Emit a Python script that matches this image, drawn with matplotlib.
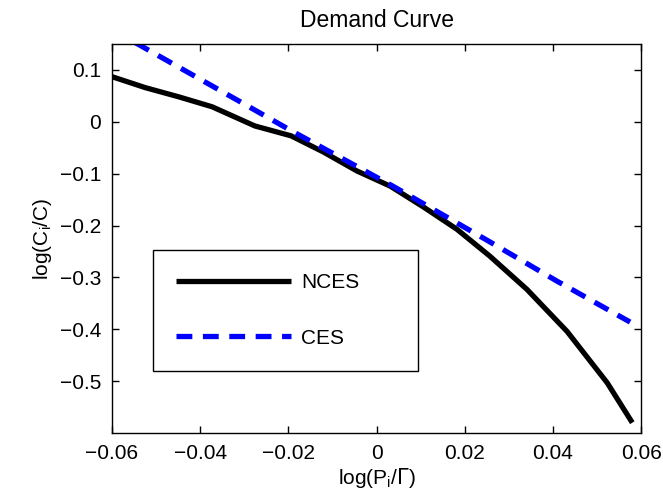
import matplotlib
matplotlib.use('Agg')
import matplotlib.pyplot as plt

plt.rcParams['font.family'] = ['Liberation Sans', 'DejaVu Sans']
plt.rcParams['font.size'] = 15

price = [-0.060, -0.0525, -0.0448, -0.0373, -0.0276, -0.0194, -0.0121,
         -0.0044, 0.0031, 0.0106, 0.0182, 0.0257, 0.0341, 0.0432, 0.0523,
         0.058]
nces = [0.087, 0.066, 0.048, 0.029, -0.008, -0.027, -0.058,
        -0.095, -0.124, -0.164, -0.207, -0.259, -0.323, -0.404, -0.503,
        -0.580]

ces_price = [-0.060, -0.0475, -0.031, -0.0196, 0.0037, 0.025, 0.0409, 0.0575]
ces = [0.178, 0.118, 0.039, -0.016, -0.124, -0.228, -0.307, -0.386]

xticks = [-0.06, -0.04, -0.02, 0, 0.02, 0.04, 0.06]
xlabels = ['\u22120.06', '\u22120.04', '\u22120.02', '0', '0.02', '0.04', '0.06']
yticks = [-0.5, -0.4, -0.3, -0.2, -0.1, 0, 0.1]
ylabels = ['\u22120.5', '\u22120.4', '\u22120.3', '\u22120.2', '\u22120.1', '0', '0.1']

fig = plt.figure(figsize=(6.63, 5.03), dpi=100)
ax = fig.add_axes([0.169, 0.139, 0.798, 0.7735])

ax.plot(price, nces, color='black', lw=3.8, label='NCES', solid_capstyle='butt')
ax.plot(ces_price, ces, color='#0000ff', lw=3.8, ls=(0, (3, 2)), label='CES')

ax.set_xlim(-0.06, 0.06)
ax.set_ylim(-0.6, 0.15)
ax.set_xticks(xticks)
ax.set_xticklabels(xlabels)
ax.set_yticks(yticks)
ax.set_yticklabels(ylabels)
ax.tick_params(direction='in', top=True, right=True, length=5, width=1, pad=8)
for s in ax.spines.values():
    s.set_linewidth(1)

ax.set_title('Demand Curve', fontsize=16.5, pad=12)
ax.set_xlabel(r'log(P$_\mathregular{i}$/$\Gamma$)', labelpad=2)
ax.set_ylabel(r'log(C$_\mathregular{i}$/C)', labelpad=4)

leg = ax.legend(loc='upper left', bbox_to_anchor=(0.0775, 0.47, 0.501, 0.0),
                mode='expand', borderaxespad=0, handlelength=5.5,
                handletextpad=0.5, labelspacing=1.75, borderpad=1.1,
                fancybox=False, framealpha=1, edgecolor='black')
leg.get_frame().set_linewidth(1)

fig.savefig('out.png', dpi=100)
